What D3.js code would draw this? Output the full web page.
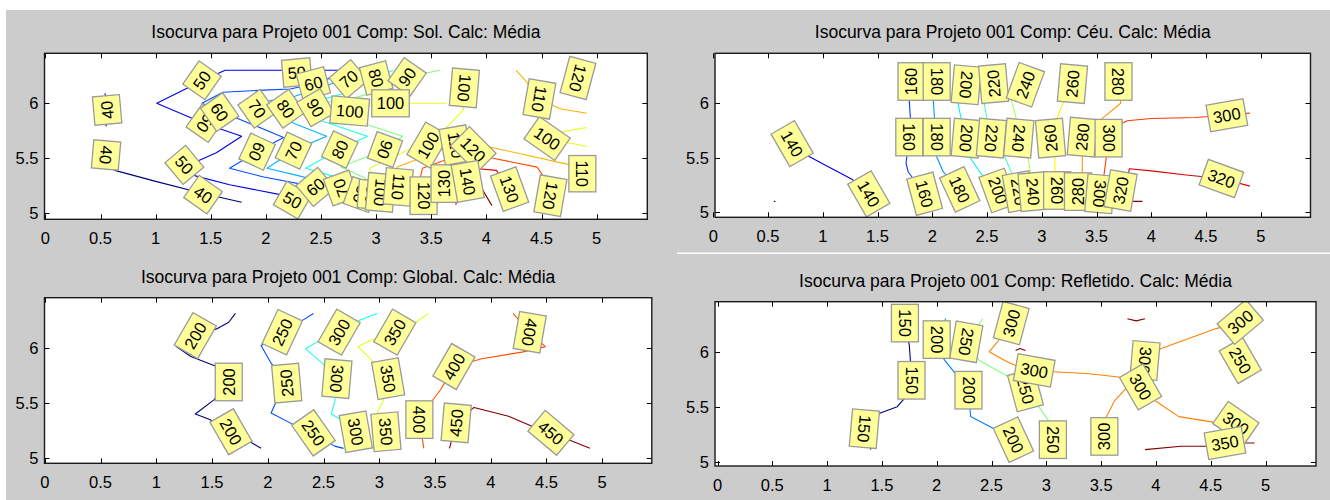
<!DOCTYPE html>
<html>
<head>
<meta charset="utf-8">
<script src="https://cdn.jsdelivr.net/npm/d3@7/dist/d3.min.js"></script>
<style>
  html, body { margin: 0; padding: 0; background: #ffffff; }
  svg { display: block; }
  text { font-family: "Liberation Sans", Arial, sans-serif; }
</style>
</head>
<body>
<svg id="fig" width="1330" height="500"></svg>
<script>
// ---- shared axis ticks ----
const xTicks = [0, 0.5, 1, 1.5, 2, 2.5, 3, 3.5, 4, 4.5, 5];
const yTicks = [5, 5.5, 6];

// ---- titles ----
const titles = [
  "Isocurva para Projeto 001 Comp: Sol. Calc: Média",
  "Isocurva para Projeto 001 Comp: Céu. Calc: Média",
  "Isocurva para Projeto 001 Comp: Global. Calc: Média",
  "Isocurva para Projeto 001 Comp: Refletido. Calc: Média"
];

// ---- contour levels (colour range of each map) ----
const solRange = [40, 140];
const ceuRange = [120, 340];
const globalRange = [200, 450];
const refRange = [150, 350];

// ---- Sol: isolines [level, [[x, y], ...]] ----
const solLines = [
  [40, [[0.54,6.09],[0.57,5.95],[0.55,5.79]]],
  [40, [[0.53,5.66],[0.57,5.52],[0.63,5.39],[1.0,5.29],[1.43,5.18],[1.78,5.10]]],
  [50, [[2.66,6.30],[1.63,6.30],[1.43,6.21],[1.01,6.00],[1.43,5.82],[1.78,5.70],[1.55,5.55],[1.30,5.44],[1.36,5.34],[1.67,5.26],[2.13,5.17],[2.24,5.13],[2.50,5.12]]],
  [60, [[2.85,6.29],[2.55,6.22],[2.45,6.18],[2.22,6.13],[1.98,6.12],[1.61,6.10],[1.42,6.00],[1.70,5.88],[2.16,5.69],[1.92,5.56],[1.67,5.41],[1.98,5.33],[2.45,5.24],[2.62,5.17]]],
  [70, [[3.00,6.30],[2.72,6.22],[2.52,6.15],[2.25,6.06],[1.95,6.01],[1.76,6.00],[1.92,5.95],[2.55,5.70],[2.25,5.57],[2.01,5.41],[2.30,5.34],[2.62,5.26],[2.68,5.23],[2.76,5.10]]],
  [80, [[3.15,6.30],[3.00,6.23],[2.75,6.10],[2.45,6.02],[2.07,6.00],[2.18,5.95],[2.92,5.70],[2.67,5.58],[2.36,5.41],[2.60,5.34],[2.82,5.25],[2.86,5.17],[2.90,5.08]]],
  [90, [[3.58,6.30],[3.28,6.24],[3.05,6.12],[2.70,6.02],[2.30,6.00],[2.45,5.96],[3.24,5.70],[3.08,5.58],[2.68,5.42],[2.90,5.32],[2.96,5.17],[2.97,5.08]]],
  [100, [[2.55,5.92],[2.76,5.93],[2.95,5.98],[3.12,6.00],[3.40,6.00],[3.64,6.00]]],
  [100, [[3.05,5.08],[3.04,5.19],[2.98,5.32],[2.94,5.41],[3.30,5.58],[3.47,5.62],[3.62,5.76],[3.79,5.94],[3.80,6.14],[3.80,6.30]]],
  [100, [[4.91,5.78],[4.69,5.74],[4.55,5.68],[4.69,5.65],[4.91,5.61]]],
  [110, [[4.27,6.30],[4.36,6.20],[4.48,6.04],[4.67,5.95],[4.91,5.91]]],
  [110, [[3.18,5.08],[3.20,5.24],[3.19,5.42],[3.58,5.57],[3.72,5.62],[4.00,5.61],[4.76,5.44],[4.87,5.36],[4.91,5.34]]],
  [120, [[3.43,5.08],[3.43,5.16],[3.40,5.32],[3.42,5.41],[3.67,5.50],[3.88,5.58],[4.06,5.50],[4.46,5.42],[4.52,5.33],[4.58,5.16],[4.58,5.08]]],
  [130, [[3.55,5.08],[3.62,5.27],[3.70,5.36],[3.88,5.41],[4.09,5.39],[4.21,5.22],[4.30,5.10]]],
  [140, [[3.72,5.08],[3.83,5.29],[3.95,5.24],[4.02,5.12],[4.05,5.07]]]
];
// [level, x, y, rotation]
const solLabels = [
  [40,0.56,5.94,-95],[40,0.55,5.53,95],[40,1.43,5.17,35],
  [50,2.28,6.28,-5],[50,1.42,6.21,-55],[50,1.45,5.82,125],[50,1.26,5.44,50],[50,2.24,5.12,30],
  [60,2.43,6.18,-15],[60,1.58,5.92,55],[60,1.92,5.56,115],[60,2.45,5.24,-40],
  [70,2.75,6.22,-40],[70,1.92,5.95,55],[70,2.25,5.57,-65],[70,2.68,5.23,-110],
  [80,3.00,6.23,75],[80,2.18,5.95,55],[80,2.67,5.58,-65],[80,2.86,5.17,110],
  [90,3.28,6.24,-55],[90,2.45,5.96,60],[90,3.08,5.58,110],[90,2.96,5.17,95],
  [100,2.76,5.93,5],[100,3.13,6.00,0],[100,3.80,6.14,95],[100,3.47,5.62,-60],[100,4.55,5.68,35],[100,3.04,5.19,95],
  [110,3.20,5.24,95],[110,4.48,6.04,100],[110,4.87,5.36,90],[110,3.72,5.62,80],
  [120,3.43,5.16,90],[120,4.83,6.23,105],[120,4.58,5.16,100],[120,3.88,5.58,45],
  [130,3.62,5.27,-90],[140,3.83,5.29,80],[130,4.21,5.22,70]
];

// ---- Céu ----
const ceuLines = [
  [140, [[0.62,5.70],[0.72,5.63],[0.84,5.53],[1.27,5.30],[1.42,5.17],[1.57,5.10]]],
  [140, [[0.553,5.10],[0.567,5.10]]],
  [160, [[1.80,6.30],[1.81,6.20],[1.79,6.02],[1.80,5.86],[1.79,5.69],[1.76,5.45],[1.78,5.37],[1.93,5.17],[1.98,5.10]]],
  [180, [[2.05,6.30],[2.04,6.20],[2.01,6.02],[2.02,5.86],[2.04,5.69],[2.04,5.51],[2.10,5.37],[2.25,5.21],[2.30,5.10]]],
  [200, [[2.30,6.30],[2.31,6.17],[2.23,6.02],[2.27,5.83],[2.31,5.68],[2.34,5.51],[2.44,5.36],[2.60,5.20],[2.65,5.10]]],
  [220, [[2.58,6.30],[2.56,6.18],[2.47,6.02],[2.50,5.85],[2.54,5.68],[2.65,5.54],[2.72,5.37],[2.79,5.19],[2.82,5.10]]],
  [240, [[2.90,6.30],[2.85,6.17],[2.72,6.03],[2.76,5.89],[2.79,5.68],[2.87,5.54],[2.89,5.40],[2.92,5.19],[2.93,5.10]]],
  [260, [[3.30,6.30],[3.28,6.18],[3.20,6.02],[3.14,5.86],[3.08,5.68],[3.12,5.54],[3.12,5.37],[3.14,5.20],[3.14,5.10]]],
  [280, [[3.70,6.30],[3.70,6.20],[3.72,6.00],[3.55,5.86],[3.37,5.69],[3.37,5.54],[3.37,5.37],[3.33,5.19],[3.33,5.10]]],
  [300, [[4.90,5.91],[4.69,5.89],[4.40,5.87],[4.00,5.86],[3.78,5.84],[3.70,5.80],[3.61,5.68],[3.59,5.51],[3.57,5.36],[3.53,5.17],[3.52,5.10]]],
  [320, [[4.90,5.24],[4.64,5.31],[4.34,5.34],[4.00,5.38],[3.80,5.40],[3.78,5.30],[3.72,5.20],[3.70,5.10]]],
  [340, [[3.82,5.10],[3.92,5.10]]]
];
const ceuLabels = [
  [160,1.81,6.20,-90],[180,2.04,6.20,90],[200,2.31,6.17,95],[220,2.56,6.18,-95],[240,2.85,6.17,-70],[260,3.28,6.18,-85],[280,3.70,6.20,90],
  [160,1.79,5.69,90],[180,2.04,5.69,90],[200,2.31,5.68,95],[220,2.54,5.68,95],[240,2.79,5.68,95],[260,3.08,5.68,-95],[280,3.37,5.69,-85],[300,3.61,5.68,90],
  [140,0.72,5.63,60],[140,1.42,5.17,60],[160,1.93,5.17,75],[180,2.25,5.21,65],[200,2.60,5.20,70],[220,2.79,5.19,80],[240,2.92,5.19,85],
  [260,3.14,5.20,90],[280,3.33,5.19,-90],[300,3.53,5.17,95],[320,3.72,5.20,-80],[300,4.69,5.89,-10],[320,4.64,5.31,20]
];

// ---- Global ----
const globalLines = [
  [200, [[1.71,6.31],[1.65,6.23],[1.54,6.17],[1.35,6.11],[1.18,6.01],[1.31,5.92],[1.54,5.83],[1.65,5.69],[1.52,5.53],[1.35,5.40],[1.48,5.35],[1.67,5.24],[1.84,5.15],[1.94,5.09]]],
  [250, [[2.41,6.31],[2.30,6.24],[2.13,6.14],[1.94,6.02],[2.03,5.86],[2.17,5.68],[2.07,5.50],[2.03,5.41],[2.24,5.30],[2.41,5.23],[2.60,5.11],[2.68,5.09]]],
  [300, [[2.98,6.31],[2.83,6.25],[2.64,6.14],[2.49,6.08],[2.34,5.99],[2.49,5.86],[2.62,5.72],[2.60,5.51],[2.57,5.40],[2.64,5.36],[2.79,5.24],[2.95,5.09]]],
  [350, [[3.44,6.31],[3.33,6.23],[3.14,6.14],[2.93,6.07],[2.81,6.01],[2.95,5.87],[3.08,5.72],[3.04,5.53],[2.98,5.41],[3.06,5.24],[3.02,5.09]]],
  [400, [[4.20,6.31],[4.35,6.14],[4.49,6.01],[4.28,5.96],[3.92,5.90],[3.67,5.83],[3.55,5.62],[3.46,5.50],[3.36,5.35],[3.40,5.09]]],
  [450, [[3.63,5.09],[3.69,5.32],[3.85,5.46],[4.16,5.38],[4.37,5.29],[4.54,5.23],[4.89,5.09]]]
];
const globalLabels = [
  [200,1.35,6.11,-60],[200,1.65,5.69,-90],[200,1.67,5.24,60],
  [250,2.13,6.14,-65],[250,2.17,5.68,-95],[250,2.41,5.23,55],
  [300,2.64,6.14,-60],[300,2.62,5.72,95],[300,2.79,5.24,80],
  [350,3.14,6.14,-60],[350,3.08,5.72,80],[350,3.06,5.24,85],
  [400,4.35,6.14,100],[400,3.67,5.83,-60],[400,3.36,5.35,90],
  [450,3.69,5.32,-85],[450,4.54,5.23,40]
];

// ---- Refletido ----
const refLines = [
  [150, [[1.71,6.30],[1.71,6.26],[1.75,6.06],[1.76,5.92],[1.77,5.74],[1.71,5.58],[1.64,5.50],[1.48,5.44],[1.34,5.30],[1.40,5.11]]],
  [200, [[2.08,6.30],[2.06,6.22],[2.00,6.11],[2.06,5.94],[2.17,5.80],[2.29,5.65],[2.31,5.41],[2.54,5.29],[2.70,5.20],[2.78,5.12]]],
  [250, [[2.42,6.30],[2.35,6.20],[2.27,6.09],[2.39,5.92],[2.66,5.77],[2.81,5.65],[2.91,5.53],[3.03,5.36],[3.06,5.20],[3.07,5.10]]],
  [250, [[4.81,6.11],[4.77,5.92],[4.70,5.85]]],
  [300, [[2.72,6.30],[2.68,6.26],[2.58,6.12],[2.48,6.00],[2.62,5.92],[2.75,5.86],[2.89,5.83],[3.03,5.82],[3.39,5.80],[3.66,5.77],[3.86,5.68],[4.00,5.55],[4.21,5.41],[4.52,5.36],[4.73,5.35],[4.90,5.29]]],
  [300, [[3.86,5.68],[3.90,5.92],[4.05,6.03],[4.55,6.21],[4.77,6.27],[4.85,6.30]]],
  [300, [[3.76,5.70],[3.62,5.55],[3.55,5.41],[3.53,5.23],[3.53,5.10]]],
  [350, [[3.90,5.11],[4.23,5.14],[4.56,5.14],[4.63,5.17],[4.90,5.17]]],
  [350, [[3.74,6.30],[3.82,6.28],[3.90,6.30]]],
  [350, [[2.72,6.01],[2.76,6.03],[2.81,6.01]]]
];
const refLabels = [
  [150,1.71,6.26,90],[150,1.77,5.74,90],[150,1.34,5.30,95],
  [200,2.00,6.11,90],[200,2.29,5.65,90],[200,2.70,5.20,65],
  [250,2.27,6.09,100],[250,2.81,5.65,75],[250,3.06,5.20,90],[250,4.77,5.92,60],
  [300,2.68,6.26,-75],[300,3.90,5.92,95],[300,2.89,5.83,10],[300,3.86,5.68,60],[300,3.53,5.23,-90],[300,4.77,6.27,-40],[300,4.73,5.35,35],[350,4.63,5.17,-10]
];

// ---- panel layout in pixels: plot box and where x=0/5 and y=5/6 fall ----
const layouts = [
  { box: [44.5, 53.3, 647.3, 219.3], xr: [45.4, 596.7], yr: [213.3, 103.3] },
  { box: [715, 53.3, 1310.5, 217.3], xr: [713.3, 1260.8], yr: [212.3, 103.3] },
  { box: [44.5, 297.7, 651.8, 463.3], xr: [44.8, 602.2], yr: [458.3, 347.7] },
  { box: [715, 301.7, 1316, 466], xr: [717.5, 1265.5], yr: [461.7, 351.7] }
];

const panels = [
  { title: titles[0], lines: solLines, labels: solLabels, range: solRange },
  { title: titles[1], lines: ceuLines, labels: ceuLabels, range: ceuRange },
  { title: titles[2], lines: globalLines, labels: globalLabels, range: globalRange },
  { title: titles[3], lines: refLines, labels: refLabels, range: refRange }
];

// MATLAB-style jet colormap
function jet(t) {
  const c = v => Math.max(0, Math.min(1, v));
  const r = c(1.5 - Math.abs(4 * t - 3));
  const g = c(1.5 - Math.abs(4 * t - 2));
  const b = c(1.5 - Math.abs(4 * t - 1));
  return d3.rgb(r * 255, g * 255, b * 255).formatHex();
}

const svg = d3.select("#fig");

// figure background
svg.append("rect").attr("x", 6).attr("y", 10).attr("width", 1324).attr("height", 490).attr("fill", "#cccccc");
svg.append("rect").attr("x", 677).attr("y", 252.5).attr("width", 653).attr("height", 1.5).attr("fill", "#ffffff");

panels.forEach((p, i) => {
  const L = layouts[i];
  const [bx0, by0, bx1, by1] = L.box;
  const x = d3.scaleLinear().domain([0, 5]).range(L.xr);
  const y = d3.scaleLinear().domain([5, 6]).range(L.yr);
  const color = lv => jet((lv - p.range[0]) / (p.range[1] - p.range[0]));

  const g = svg.append("g");
  const clipId = "clip" + i;
  g.append("clipPath").attr("id", clipId)
    .append("rect").attr("x", bx0).attr("y", by0).attr("width", bx1 - bx0).attr("height", by1 - by0);

  g.append("rect").attr("x", bx0).attr("y", by0).attr("width", bx1 - bx0).attr("height", by1 - by0)
    .attr("fill", "#ffffff");

  // title
  g.append("text").attr("x", (bx0 + bx1) / 2).attr("y", by0 - 15)
    .attr("text-anchor", "middle").attr("font-size", 17.5).attr("fill", "#000")
    .text(p.title);

  const plot = g.append("g").attr("clip-path", `url(#${clipId})`);

  // isolines
  const line = d3.line().x(d => x(d[0])).y(d => y(d[1]));
  plot.selectAll("path.iso").data(p.lines).join("path")
    .attr("class", "iso")
    .attr("d", d => line(d[1]))
    .attr("fill", "none")
    .attr("stroke", d => color(d[0]))
    .attr("stroke-width", 1.1)
    .attr("stroke-linejoin", "round");

  // ticks (inside, all four sides)
  const tk = 5;
  const tg = g.append("g").attr("stroke", "#000").attr("stroke-width", 1);
  xTicks.forEach(v => {
    const px = Math.round(x(v)) + 0.5;
    tg.append("line").attr("x1", px).attr("x2", px).attr("y1", by1).attr("y2", by1 - tk);
    tg.append("line").attr("x1", px).attr("x2", px).attr("y1", by0).attr("y2", by0 + tk);
  });
  yTicks.forEach(v => {
    const py = Math.round(y(v)) + 0.5;
    tg.append("line").attr("x1", bx0).attr("x2", bx0 + tk).attr("y1", py).attr("y2", py);
    tg.append("line").attr("x1", bx1).attr("x2", bx1 - tk).attr("y1", py).attr("y2", py);
  });

  // contour labels
  const lg = plot.selectAll("g.lab").data(p.labels).join("g")
    .attr("class", "lab")
    .attr("transform", d => `translate(${x(d[1])},${y(d[2])}) rotate(${d[3]})`);
  lg.append("rect").attr("class", "bg");
  lg.append("text")
    .attr("text-anchor", "middle").attr("dy", "0.36em")
    .attr("font-size", 16.5).attr("fill", "#000")
    .text(d => d[0]);
  lg.each(function () {
    const t = d3.select(this).select("text").node();
    const w = t.getComputedTextLength() + 10, h = 27;
    d3.select(this).select("rect")
      .attr("x", -w / 2).attr("y", -h / 2).attr("width", w).attr("height", h)
      .attr("fill", "#ffff99").attr("stroke", "#9a9a9a").attr("stroke-width", 1.3);
  });

  // plot frame
  g.append("rect").attr("x", bx0).attr("y", by0).attr("width", bx1 - bx0).attr("height", by1 - by0)
    .attr("fill", "none").attr("stroke", "#1a1a1a").attr("stroke-width", 1.4);

  // tick labels
  g.selectAll("text.xt").data(xTicks).join("text").attr("class", "xt")
    .attr("x", d => x(d)).attr("y", by1 + 25)
    .attr("text-anchor", "middle").attr("font-size", 16.5).attr("fill", "#000")
    .text(d => d3.format("")(d));
  g.selectAll("text.yt").data(yTicks).join("text").attr("class", "yt")
    .attr("x", bx0 - 6).attr("y", d => y(d)).attr("dy", "0.36em")
    .attr("text-anchor", "end").attr("font-size", 16.5).attr("fill", "#000")
    .text(d => d3.format("")(d));
});
</script>
</body>
</html>
